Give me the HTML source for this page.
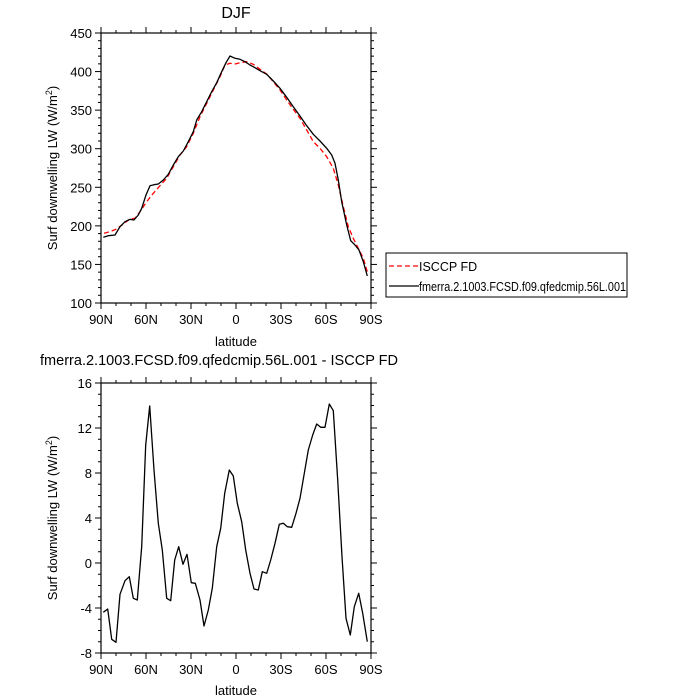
<!DOCTYPE html>
<html><head><style>body{margin:0;background:#fff}svg{display:block}text{font-family:"Liberation Sans",sans-serif;fill:#000}</style></head>
<body>
<svg width="700" height="700" xmlns="http://www.w3.org/2000/svg">
<g id="ax"></g>
<text x="236" y="18" font-size="16" text-anchor="middle">DJF</text>
<text x="236" y="346" font-size="13" text-anchor="middle">latitude</text>
<text x="236" y="695" font-size="13" text-anchor="middle">latitude</text>
<text x="40" y="365" font-size="15" textLength="358" lengthAdjust="spacingAndGlyphs">fmerra.2.1003.FCSD.f09.qfedcmip.56L.001 - ISCCP FD</text>
<text transform="translate(57,168) rotate(-90)" font-size="13" text-anchor="middle">Surf downwelling LW (W/m<tspan font-size="9" dy="-5">2</tspan><tspan dy="5">)</tspan></text>
<text transform="translate(57,518) rotate(-90)" font-size="13" text-anchor="middle">Surf downwelling LW (W/m<tspan font-size="9" dy="-5">2</tspan><tspan dy="5">)</tspan></text>
<rect x="386" y="253" width="241" height="44" fill="none" stroke="#000" stroke-width="1"/>
<line x1="389" y1="266" x2="419" y2="266" stroke="#f00" stroke-width="1.3" stroke-dasharray="5,3"/>
<text x="419" y="271" font-size="12.5">ISCCP FD</text>
<line x1="389" y1="286" x2="419" y2="286" stroke="#000" stroke-width="1.3"/>
<text x="419" y="291" font-size="12.5" textLength="207" lengthAdjust="spacingAndGlyphs">fmerra.2.1003.FCSD.f09.qfedcmip.56L.001</text>
<g id="lines" fill="none" stroke-width="1.3" stroke-linejoin="round"></g>
</svg>
<script>
var ax=document.getElementById('ax'),ns='http://www.w3.org/2000/svg';
function el(t,a,p){var e=document.createElementNS(ns,t);for(var k in a)e.setAttribute(k,a[k]);(p||ax).appendChild(e);return e}
function txt(x,y,s,anc){var e=el('text',{x:x,y:y,'font-size':13,'text-anchor':anc});e.textContent=s}
function axes(top,bot,vmin,vmax,maj,minr,fmt){
 var L=101,R=371;
 el('rect',{x:L,y:top,width:R-L,height:bot-top,fill:'none',stroke:'#000','stroke-width':1.2});
 var xl=['90N','60N','30N','0','30S','60S','90S'];
 for(var d=0;d<=180;d+=10){var x=L+d*(R-L)/180,len=d%30==0?6:3;
  el('line',{x1:x,y1:bot,x2:x,y2:bot+len,stroke:'#000'});el('line',{x1:x,y1:top,x2:x,y2:top-len,stroke:'#000'});
  if(d%30==0)txt(x,bot+21,xl[d/30],'middle');}
 for(var v=vmin;v<=vmax+1e-9;v+=minr){var y=bot-(v-vmin)*(bot-top)/(vmax-vmin),m=Math.abs((v-vmin)/maj-Math.round((v-vmin)/maj))<1e-6,len=m?6:3;
  el('line',{x1:L,y1:y,x2:L-len,y2:y,stroke:'#000'});el('line',{x1:R,y1:y,x2:R+len,y2:y,stroke:'#000'});
  if(m)txt(L-9,y+5,String(Math.round(v)),'end');}
}
axes(33,303,100,450,50,10);
axes(383,653,-8,16,4,1);
var g=document.getElementById('lines');
function pl(pts,ox,oy,st,da){var s=pts.map(function(p){return (p[0]/3+ox).toFixed(1)+','+(p[1]/3+oy).toFixed(1)}).join(' ');var a={points:s,stroke:st};if(da)a['stroke-dasharray']=da;el('polyline',a,g)}
pl([[72,640],[90,635],[110,627],[130,612],[150,597],[165,595],[180,575],[200,545],[220,520],[240,497],[260,475],[280,440],[300,405],[320,380],[340,340],[360,290],[380,250],[400,210],[420,170],[435,135],[450,130],[465,132],[480,128],[500,125],[520,133],[540,148],[560,162],[580,185],[600,210],[620,240],[640,268],[660,295],[680,330],[700,365],[720,385],[740,410],[760,445],[775,495],[790,560],[805,620],[820,655],[835,685],[850,715],[862,755]],80,20,'#f00','5,3');
pl([[70,652],[85,647],[105,645],[120,620],[135,605],[150,598],[162,600],[175,585],[185,565],[198,525],[210,497],[222,494],[235,492],[250,480],[265,463],[280,435],[295,410],[310,393],[325,365],[340,335],[350,300],[365,275],[380,245],[395,215],[410,188],[425,155],[438,128],[450,108],[465,115],[480,118],[495,125],[510,135],[525,143],[540,152],[560,163],[580,183],[600,205],[620,232],[640,260],[660,288],[680,317],[700,343],[720,363],[740,385],[755,405],[765,430],[775,480],[785,545],[800,615],[812,662],[825,675],[837,690],[850,725],[862,768]],80,20,'#000');
pl([[70,727],[83,717],[95,808],[108,817],[120,673],[135,632],[148,620],[160,685],[172,690],[185,530],[197,225],[209,108],[222,300],[235,460],[247,540],[260,685],[272,692],[284,570],[296,530],[309,583],[321,553],[334,638],[346,640],[360,690],[372,768],[385,720],[397,655],[410,530],[422,475],[434,370],[448,300],[460,318],[472,400],[485,455],[497,540],[510,610],[522,657],[535,660],[547,605],[560,610],[572,570],[585,520],[598,463],[610,460],[622,470],[635,472],[648,430],[660,385],[673,310],[685,240],[698,195],[710,162],[722,172],[735,172],[748,102],[760,122],[773,330],[786,560],[798,745],[811,795],[823,710],[836,670],[848,730],[862,815]],80,370,'#000');
</script>
</body></html>
